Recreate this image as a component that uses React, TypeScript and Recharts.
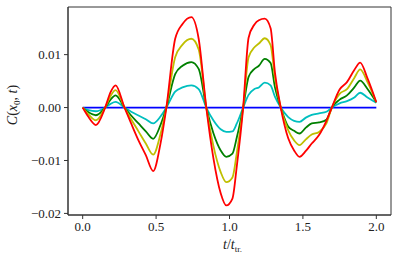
import React from "react";
import { LineChart, Line, XAxis, YAxis, Label, ReferenceArea } from "recharts";

const tValues = [0, 0.04, 0.09, 0.153, 0.19, 0.224, 0.285, 0.33, 0.38, 0.43, 0.48, 0.53, 0.57, 0.63, 0.68, 0.74, 0.79, 0.842, 0.89, 0.94, 0.978, 1.02, 1.05, 1.093, 1.13, 1.17, 1.2, 1.24, 1.28, 1.31, 1.349, 1.4, 1.44, 1.477, 1.52, 1.56, 1.61, 1.66, 1.697, 1.75, 1.8, 1.85, 1.89, 1.94, 2.0];

const blueSeries = tValues.map(() => 0);

const cyanSeries = [0, -0.0005, -0.0007, 0, 0.0007, 0.00106, 0, -0.0008, -0.0015, -0.0022, -0.003, -0.0017, 0, 0.003, 0.0038, 0.0042, 0.0035, 0, -0.0024, -0.0041, -0.0046, -0.0045, -0.003, 0, 0.0024, 0.0035, 0.0038, 0.0047, 0.0042, 0.002, 0, -0.0018, -0.0025, -0.0027, -0.0019, -0.0014, -0.0011, -0.0008, 0, 0.0008, 0.0012, 0.0019, 0.0028, 0.0019, 0.0009];

const greenSeries = [0, -0.0009, -0.00145, 0, 0.0015, 0.0023, 0, -0.0015, -0.003, -0.0045, -0.0059, -0.0033, 0, 0.0063, 0.0079, 0.0086, 0.0073, 0, -0.0048, -0.0081, -0.0093, -0.0087, -0.0056, 0, 0.0058, 0.0073, 0.0079, 0.0092, 0.0084, 0.0038, 0, -0.0036, -0.0044, -0.0049, -0.0038, -0.003, -0.0028, -0.0023, 0, 0.0015, 0.0023, 0.0038, 0.0051, 0.0035, 0.001];

const yellowSeries = [0, -0.0013, -0.0024, 0, 0.0022, 0.0033, 0, -0.0022, -0.0045, -0.0068, -0.0089, -0.005, 0, 0.0095, 0.0119, 0.013, 0.011, 0, -0.0072, -0.0122, -0.0141, -0.0132, -0.0085, 0, 0.0095, 0.0114, 0.0121, 0.0131, 0.0118, 0.0055, 0, -0.0043, -0.0062, -0.0071, -0.006, -0.0051, -0.0046, -0.003, 0, 0.0026, 0.0035, 0.0056, 0.0072, 0.0048, 0.001];

const redSeries = [0, -0.0018, -0.0033, 0, 0.0029, 0.0042, 0, -0.003, -0.0062, -0.009, -0.012, -0.0068, 0, 0.013, 0.0158, 0.0171, 0.013, 0, -0.0095, -0.0162, -0.0185, -0.0172, -0.011, 0, 0.0132, 0.0157, 0.0165, 0.0168, 0.015, 0.0065, 0, -0.0058, -0.0081, -0.0093, -0.0082, -0.0068, -0.0052, -0.0025, 0, 0.0034, 0.0048, 0.0071, 0.0085, 0.0055, 0.001];

const xTicks = [0, 0.5, 1.0, 1.5, 2.0];
const yTicks = [-0.02, -0.01, 0, 0.01];
const xDomain: [number, number] = [-0.1, 2.1];
const yDomain: [number, number] = [-0.0203, 0.019];

const data = tValues.map((t, i) => ({
  t,
  blue: blueSeries[i],
  cyan: cyanSeries[i],
  green: greenSeries[i],
  yellow: yellowSeries[i],
  red: redSeries[i],
}));

const FONT = "Liberation Serif, DejaVu Serif, serif";
const AXIS = "#333333";

const fmtY = (v: number) => {
  const s = Math.abs(v).toFixed(2);
  return v < -1e-9 ? "\u2212" + s : s;
};

export default function App() {
  return (
    <div style={{ position: "absolute", left: 0, top: 0, background: "#fff", fontFamily: FONT }}>
      <LineChart
        width={399}
        height={260}
        data={data}
        margin={{ top: 7, right: 8, bottom: 0, left: 0 }}
        style={{ fontFamily: FONT }}
      >
        <ReferenceArea
          x1={xDomain[0]}
          x2={xDomain[1]}
          y1={yDomain[0]}
          y2={yDomain[1]}
          fill="none"
          fillOpacity={0}
          stroke={AXIS}
          strokeWidth={1}
          ifOverflow="visible"
        />
        <XAxis
          dataKey="t"
          type="number"
          domain={xDomain}
          ticks={xTicks}
          tickFormatter={(v: number) => v.toFixed(1)}
          allowDataOverflow
          height={45}
          stroke={AXIS}
          tickSize={4}
          tickMargin={3}
          tick={{ fill: "#222", fontSize: 13, fontFamily: FONT }}
        >
          <Label
            content={(props: any) => {
              const vb = props.viewBox || {};
              const cx = (vb.x || 0) + (vb.width || 0) / 2;
              return (
                <text x={cx + 3} y={249} textAnchor="middle" fontFamily={FONT} fontSize={14} fill="#222">
                  <tspan fontStyle="italic">t</tspan>
                  <tspan>/</tspan>
                  <tspan fontStyle="italic">t</tspan>
                  <tspan fontSize={9} dy={3}>tr.</tspan>
                </text>
              );
            }}
          />
        </XAxis>
        <YAxis
          type="number"
          domain={yDomain}
          ticks={yTicks}
          allowDataOverflow
          tickFormatter={fmtY}
          width={68}
          stroke={AXIS}
          tickSize={4}
          tickMargin={3}
          tick={{ fill: "#222", fontSize: 13, fontFamily: FONT }}
        >
          <Label
            content={(props: any) => {
              const vb = props.viewBox || {};
              const cy = (vb.y || 0) + (vb.height || 0) / 2;
              return (
                <text
                  transform={`translate(17, ${cy - 6}) rotate(-90)`}
                  textAnchor="middle"
                  fontFamily={FONT}
                  fontSize={14}
                  fill="#222"
                >
                  <tspan fontStyle="italic">C</tspan>
                  <tspan>(</tspan>
                  <tspan fontStyle="italic">x</tspan>
                  <tspan fontSize={9} dy={3}>0</tspan>
                  <tspan dy={-3}>, </tspan>
                  <tspan fontStyle="italic">t</tspan>
                  <tspan>)</tspan>
                </text>
              );
            }}
          />
        </YAxis>
        <Line dataKey="blue" stroke="#0000ff" strokeWidth={1.8} dot={false} type="monotone" isAnimationActive={false} />
        <Line dataKey="cyan" stroke="#00bfbf" strokeWidth={1.8} dot={false} type="monotone" isAnimationActive={false} />
        <Line dataKey="green" stroke="#008000" strokeWidth={1.8} dot={false} type="monotone" isAnimationActive={false} />
        <Line dataKey="yellow" stroke="#bfbf00" strokeWidth={1.8} dot={false} type="monotone" isAnimationActive={false} />
        <Line dataKey="red" stroke="#ff0000" strokeWidth={1.8} dot={false} type="monotone" isAnimationActive={false} />
      </LineChart>
    </div>
  );
}
